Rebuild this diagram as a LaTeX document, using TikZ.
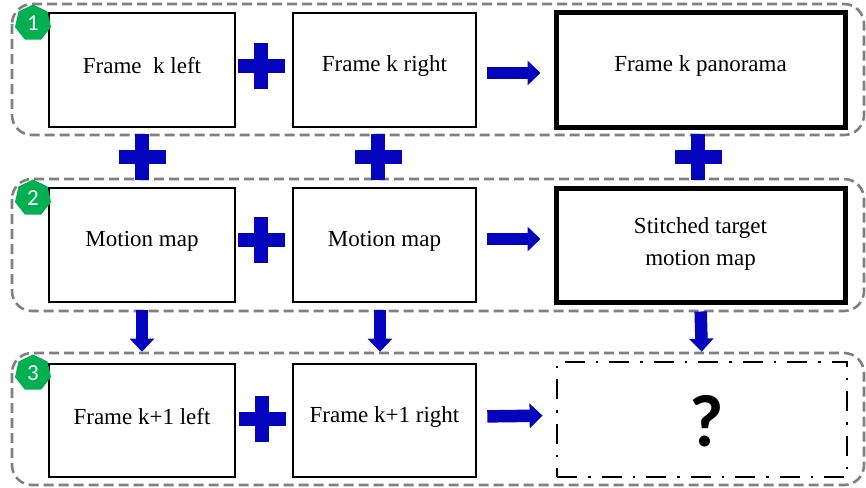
\documentclass[tikz,border=0pt]{standalone}
\usepackage{fontspec}
\setmainfont{Liberation Serif}
\newfontfamily\badgefont{Carlito}
\usetikzlibrary{arrows.meta,shapes.geometric}

\definecolor{flowblue}{RGB}{4,4,188}
\definecolor{badgegreen}{RGB}{0,176,80}
\definecolor{groupgray}{RGB}{128,128,128}

\tikzset{
  group/.style={draw=groupgray, line width=2.6pt, dash pattern=on 10pt off 5pt,
    rounded corners=20pt},
  framebox/.style={draw, line width=2.6pt, fill=white, inner sep=0pt},
  resultbox/.style={framebox, line width=5pt},
  unknownbox/.style={framebox, line width=2.8pt,
    dash pattern=on 20pt off 11pt on 2.5pt off 11pt},
  boxtext/.style={font=\fontsize{23}{32}\selectfont, align=center, inner sep=0pt,
    yshift=4pt},
  badge/.style={regular polygon, regular polygon sides=7, fill=badgegreen,
    text=white, minimum size=37pt, inner sep=0pt,
    font=\badgefont\fontsize{23}{23}\selectfont},
  flowarrow/.style={draw=flowblue, line width=12.5pt,
    -{Triangle[length=13pt,width=24pt]}},
  plussign/.pic={
    \fill[flowblue] (-23.5,-6.75) rectangle (23.5,6.75);
    \fill[flowblue] (-6.75,-23) rectangle (6.75,23);
  },
}

\begin{document}
\begin{tikzpicture}[x=1pt,y=-1pt]
  \useasboundingbox (0,0) rectangle (866,487);

  % dashed stage groups
  \draw[group] (12,4)   rectangle (864,135);
  \draw[group] (12,179) rectangle (864,311);
  \draw[group] (12,353) rectangle (864,485);

  % stage 1: frame k
  \node[framebox, minimum width=186pt, minimum height=114pt,
        label={[boxtext]center:Frame\ \ k left}] (f1) at (142,70) {};
  \node[framebox, minimum width=183pt, minimum height=114pt,
        label={[boxtext]center:Frame k right}] (f2) at (384.5,70) {};
  \node[resultbox, minimum width=289pt, minimum height=114pt,
        label={[boxtext]center:Frame k panorama}] (f3) at (700.5,70) {};

  % stage 2: motion maps
  \node[framebox, minimum width=186pt, minimum height=114pt,
        label={[boxtext]center:Motion map}] (m1) at (142,245) {};
  \node[framebox, minimum width=183pt, minimum height=114pt,
        label={[boxtext]center:Motion map}] (m2) at (384.5,245) {};
  \node[resultbox, minimum width=289pt, minimum height=114pt,
        label={[boxtext, yshift=-3pt]center:Stitched target\\motion map}] (m3) at (700.5,245) {};

  % stage 3: frame k+1
  \node[framebox, minimum width=186pt, minimum height=113pt,
        label={[boxtext]center:Frame k+1 left}] (n1) at (142,420.5) {};
  \node[framebox, minimum width=183pt, minimum height=113pt,
        label={[boxtext]center:Frame k+1 right}] (n2) at (384.5,420.5) {};
  \node[unknownbox, minimum width=290pt, minimum height=115pt,
        label={[font=\badgefont\bfseries\fontsize{74}{74}\selectfont,
                inner sep=0pt, xshift=5pt, yshift=-2pt]center:?}] (n3) at (702,419.5) {};

  % combining signs
  \pic at (261,66)  {plussign};
  \pic at (261,240) {plussign};
  \pic at (262,419) {plussign};
  \pic at (142,157) {plussign};
  \pic at (378,157) {plussign};
  \pic at (698,157) {plussign};

  % horizontal result arrows
  \draw[flowarrow, shorten <=10pt, shorten >=13pt]
    ([yshift=-3pt]f2.east) -- ([yshift=-3pt]f3.west);
  \draw[flowarrow, shorten <=10pt, shorten >=13pt]
    ([yshift=6pt]m2.east) -- ([yshift=6pt]m3.west);
  \draw[flowarrow, shorten <=10pt, shorten >=13pt]
    ([yshift=4pt]n2.east) -- ([yshift=4pt]n3.west);

  % downward arrows between stages 2 and 3
  \draw[flowarrow, shorten <=7pt, shorten >=11pt] (m1.south) -- (n1.north);
  \draw[flowarrow, shorten <=7pt, shorten >=11pt]
    ([xshift=-4.5pt]m2.south) -- ([xshift=-4.5pt]n2.north);
  \draw[flowarrow, shorten <=7pt, shorten >=9pt] (m3.south) -- (n3.north);

  % stage badges
  \node[badge] (s1) at (33,23)  {1};
  \node[badge] (s2) at (33,198) {2};
  \node[badge] (s3) at (33,373) {3};
\end{tikzpicture}
\end{document}
